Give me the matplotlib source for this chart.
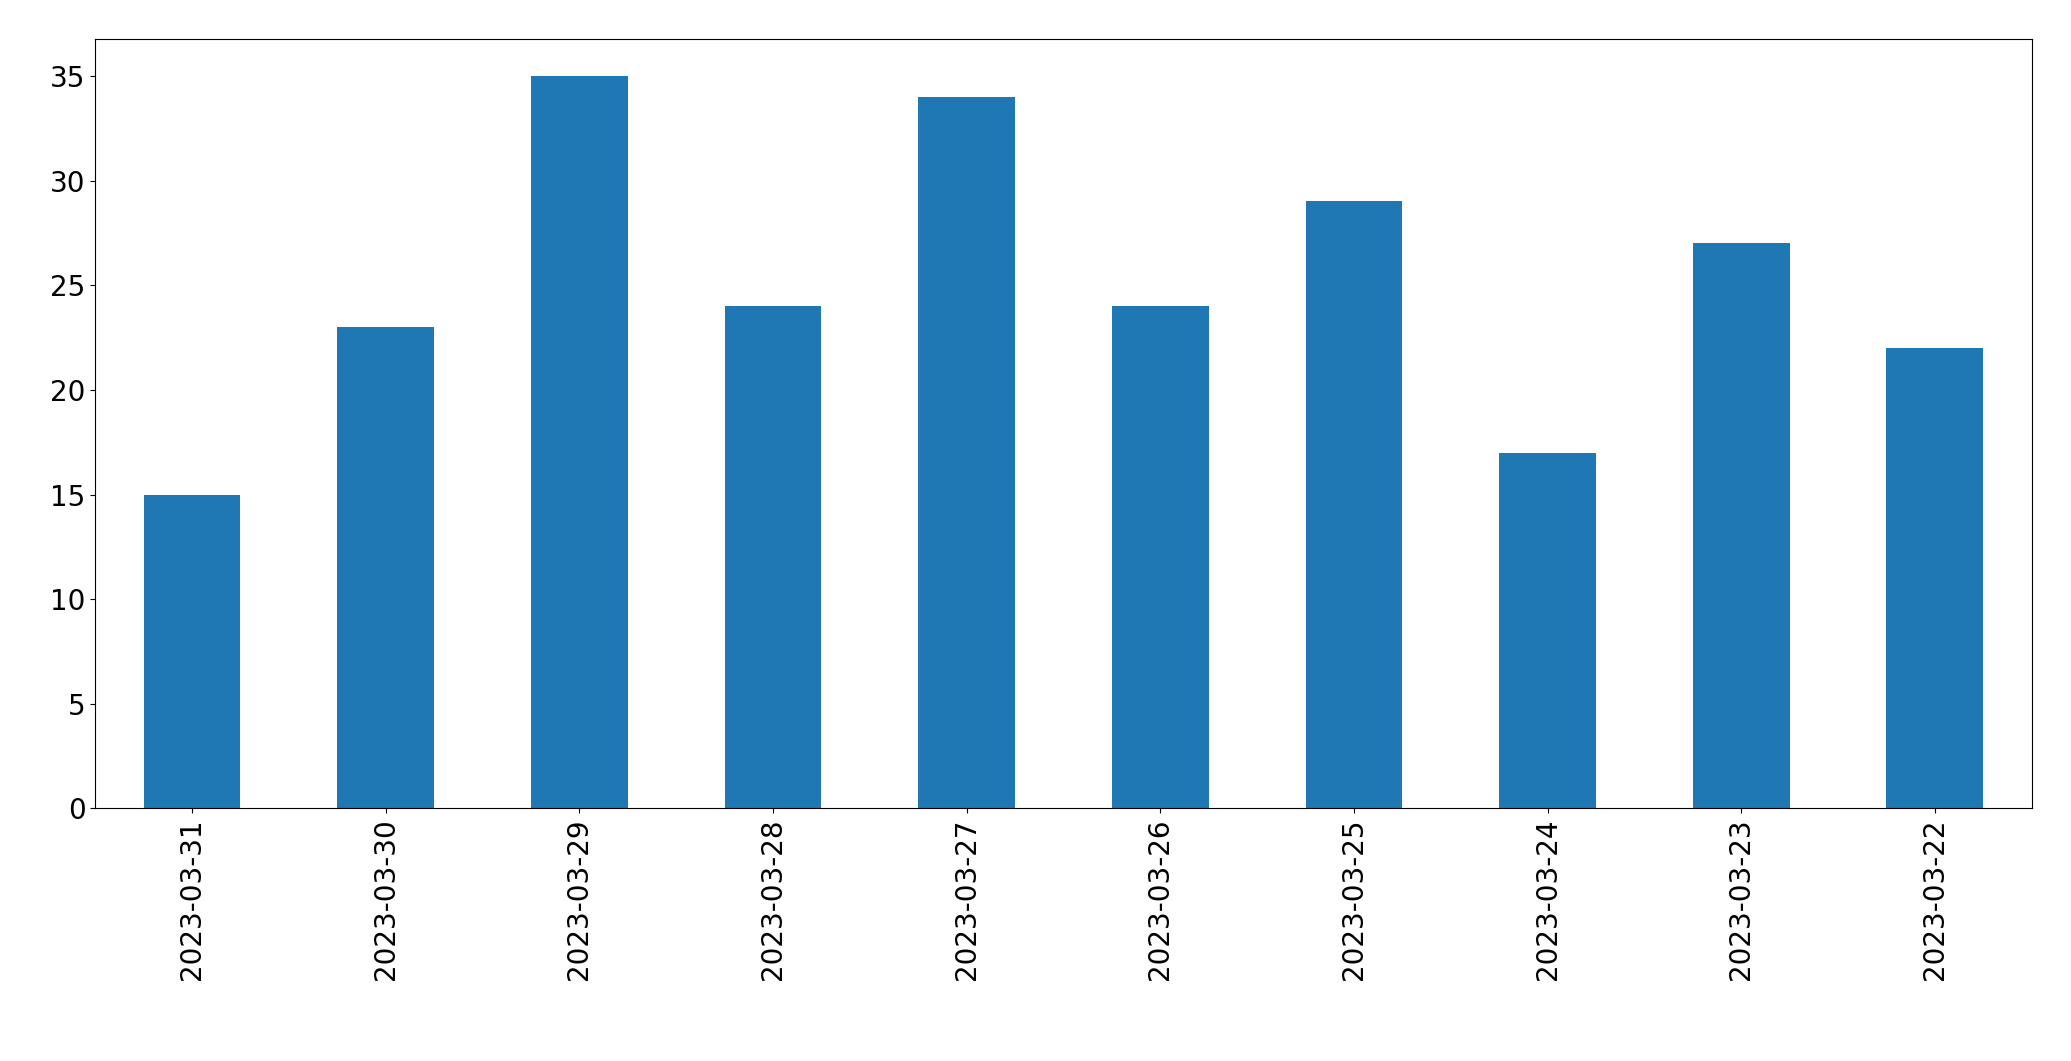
import matplotlib
matplotlib.use("Agg")
import matplotlib.pyplot as plt

dates = ["2023-03-31", "2023-03-30", "2023-03-29", "2023-03-28", "2023-03-27",
         "2023-03-26", "2023-03-25", "2023-03-24", "2023-03-23", "2023-03-22"]
counts = [15, 23, 35, 24, 34, 24, 29, 17, 27, 22]

fig, ax = plt.subplots(figsize=(20.71, 10.61), dpi=100)
ax.bar(range(len(dates)), counts, width=0.5, color="#1f77b4")
ax.set_xticks(range(len(dates)))
ax.set_xticklabels(dates, rotation=90)
ax.set_xlim(-0.5, len(dates) - 0.5)
ax.set_ylim(0, 36.75)
ax.tick_params(labelsize=20)
plt.subplots_adjust(left=0.046, right=0.981, top=0.963, bottom=0.238)
plt.savefig("out.png")
